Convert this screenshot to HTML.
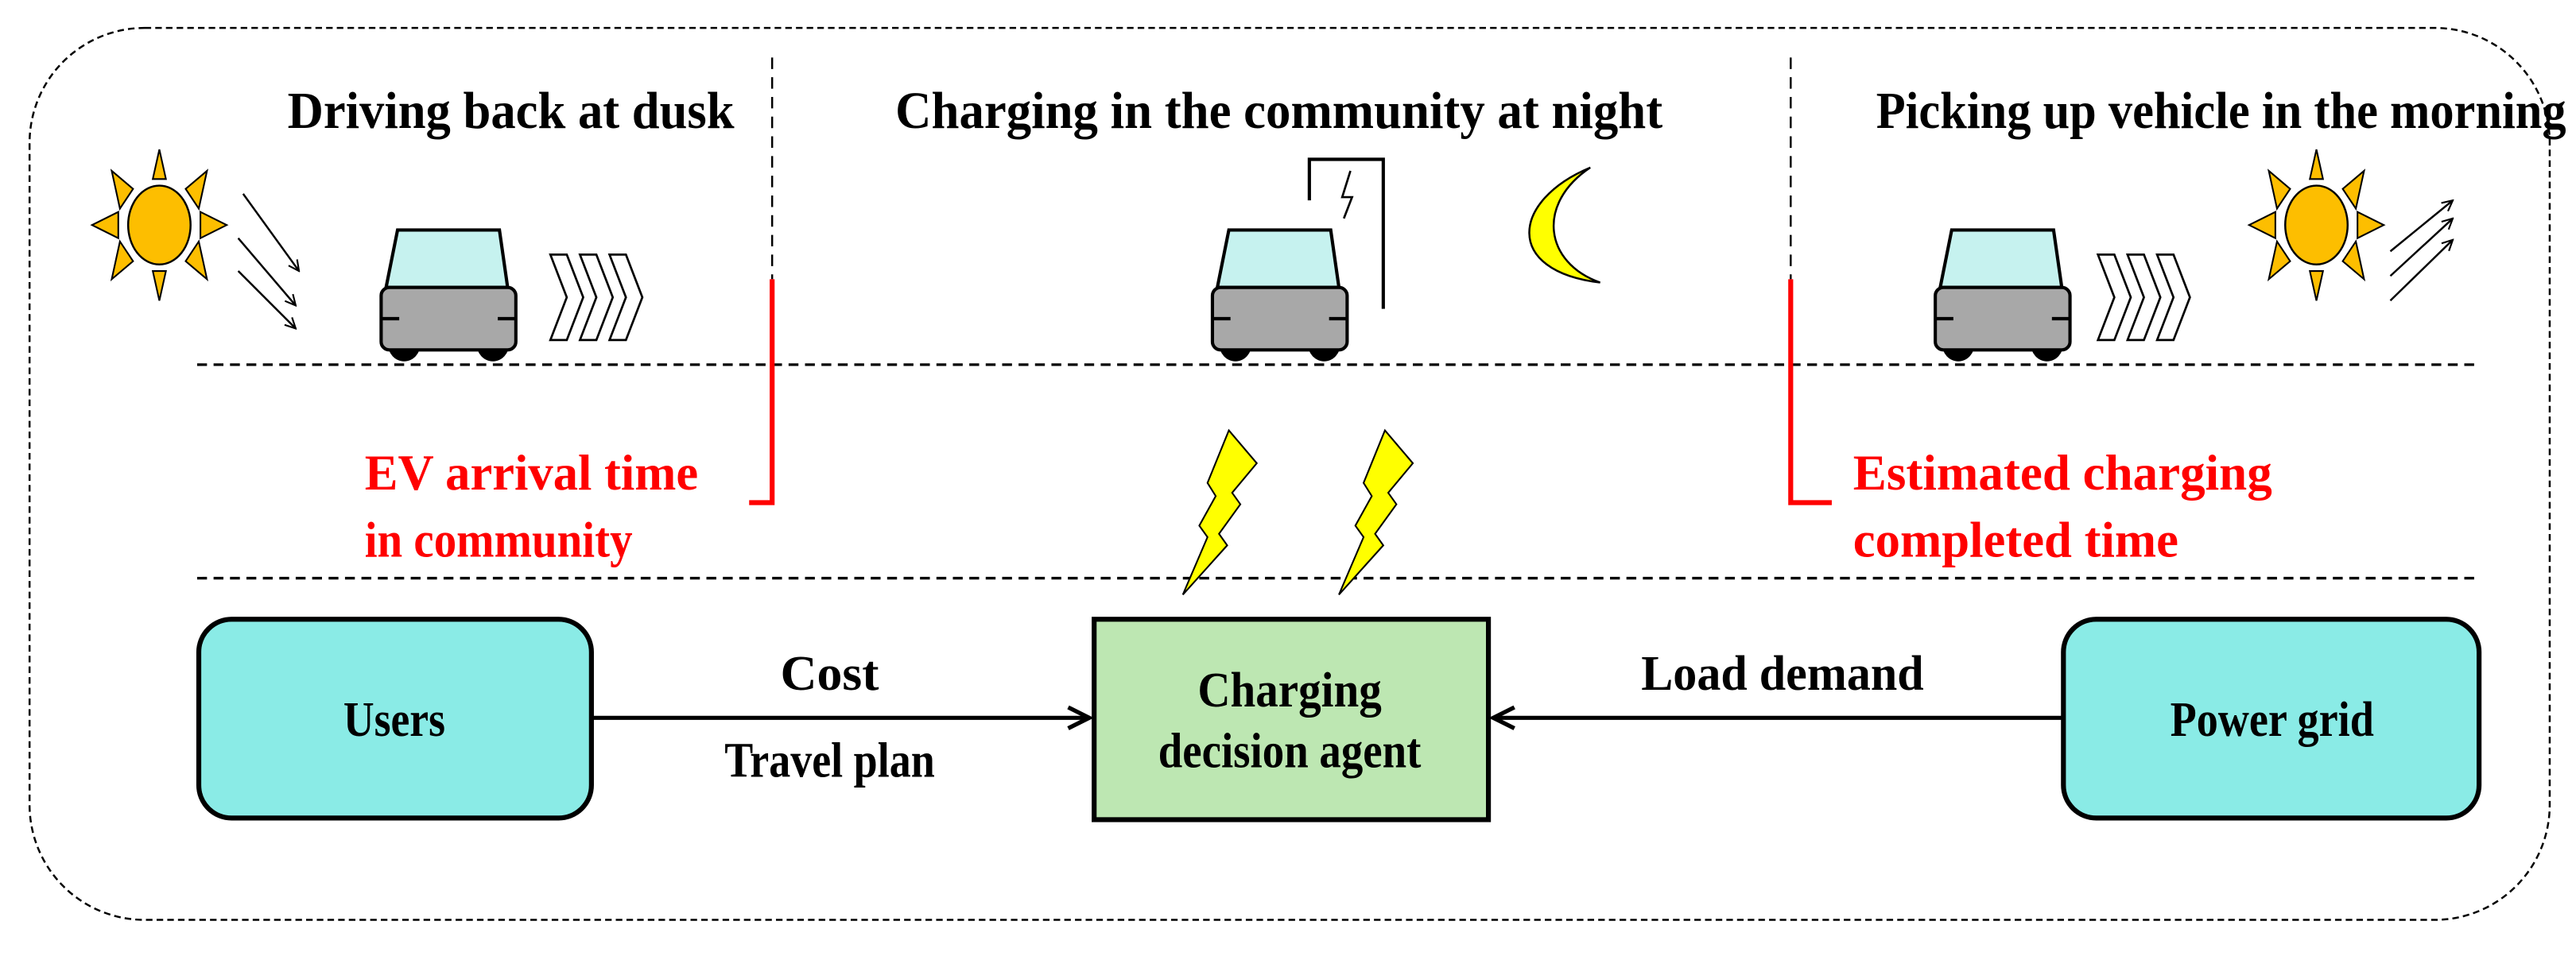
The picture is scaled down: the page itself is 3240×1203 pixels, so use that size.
<!DOCTYPE html>
<html><head><meta charset="utf-8"><style>
html,body{margin:0;padding:0;background:#fff}
svg{display:block}
text{font-family:"Liberation Serif",serif;font-weight:bold}
</style></head><body>
<svg width="3240" height="1203" viewBox="0 0 1568 582" preserveAspectRatio="none" xmlns="http://www.w3.org/2000/svg">
<defs>
<marker id="ah" viewBox="0 0 10 10" refX="9" refY="5" markerWidth="8" markerHeight="8" orient="auto" markerUnits="userSpaceOnUse"><path d="M1,1 L9,5 L1,9" fill="none" stroke="#000" stroke-width="1.3"/></marker>
<marker id="ab" viewBox="0 0 10 10" refX="9" refY="5" markerWidth="16" markerHeight="16" orient="auto" markerUnits="userSpaceOnUse"><path d="M1,1 L9,5 L1,9" fill="none" stroke="#000" stroke-width="1.6"/></marker>
<g id="sun">
<polygon points="0,-46 -4,-28 4,-28" fill="#fdbe00" stroke="#000" stroke-width="1"/>
<polygon points="0,46 -4,28 4,28" fill="#fdbe00" stroke="#000" stroke-width="1"/>
<polygon points="-41,0 -25,-8 -25,8" fill="#fdbe00" stroke="#000" stroke-width="1"/>
<polygon points="41,0 25,-8 25,8" fill="#fdbe00" stroke="#000" stroke-width="1"/>
<polygon points="-29,-33 -16,-22 -24,-10" fill="#fdbe00" stroke="#000" stroke-width="1"/>
<polygon points="29,-33 16,-22 24,-10" fill="#fdbe00" stroke="#000" stroke-width="1"/>
<polygon points="-29,33 -16,22 -24,10" fill="#fdbe00" stroke="#000" stroke-width="1"/>
<polygon points="29,33 16,22 24,10" fill="#fdbe00" stroke="#000" stroke-width="1"/>
<ellipse cx="0" cy="0" rx="19" ry="24" fill="#fdbe00" stroke="#000" stroke-width="1.2"/>
</g>
<g id="car">
<polygon points="10,0 72,0 77,35 3,35" fill="#c6f2ef" stroke="#000" stroke-width="2"/>
<ellipse cx="14" cy="69" rx="10" ry="11" fill="#000"/>
<ellipse cx="68" cy="69" rx="10" ry="11" fill="#000"/>
<rect x="0" y="35" width="82" height="38" rx="5" fill="#a8a8a8" stroke="#000" stroke-width="2"/>
<line x1="0" y1="54" x2="11" y2="54" stroke="#000" stroke-width="2"/>
<line x1="71" y1="54" x2="82" y2="54" stroke="#000" stroke-width="2"/>
</g>
<g id="chev">
<polygon points="0,0 10,0 20,26 10,52 0,52 10,26" fill="#fff" stroke="#000" stroke-width="1.3"/>
<polygon points="18,0 28,0 38,26 28,52 18,52 28,26" fill="#fff" stroke="#000" stroke-width="1.3"/>
<polygon points="36,0 46,0 56,26 46,52 36,52 46,26" fill="#fff" stroke="#000" stroke-width="1.3"/>
</g>
<g id="bolt">
<polygon points="28,0 45,20 30,38 35,45 22,63 27,70 0,100 15,65 10,58 20,40 15,32" fill="#ffff00" stroke="#000" stroke-width="1"/>
</g>
</defs>

<rect x="18" y="17" width="1534" height="543" rx="70" ry="70" fill="none" stroke="#000" stroke-width="1.2" stroke-dasharray="4,2.5"/>

<!-- titles -->
<text x="175" y="78" font-size="32" textLength="272" lengthAdjust="spacingAndGlyphs">Driving back at dusk</text>
<text x="545" y="78" font-size="32" textLength="467" lengthAdjust="spacingAndGlyphs">Charging in the community at night</text>
<text x="1142" y="78" font-size="32" textLength="420" lengthAdjust="spacingAndGlyphs">Picking up vehicle in the morning</text>

<!-- dashed separators -->
<line x1="470" y1="35" x2="470" y2="170" stroke="#000" stroke-width="1.2" stroke-dasharray="7,5"/>
<line x1="1090" y1="35" x2="1090" y2="170" stroke="#000" stroke-width="1.2" stroke-dasharray="7,5"/>
<line x1="120" y1="222" x2="1510" y2="222" stroke="#000" stroke-width="1.6" stroke-dasharray="6,4"/>
<line x1="120" y1="352" x2="1510" y2="352" stroke="#000" stroke-width="1.6" stroke-dasharray="6,4"/>

<!-- red brackets -->
<polyline points="470,170 470,306 456,306" fill="none" stroke="#ff0000" stroke-width="3"/>
<polyline points="1090,170 1090,306 1115,306" fill="none" stroke="#ff0000" stroke-width="3"/>
<g fill="#ff0000" font-size="31">
<text x="222" y="298" textLength="203" lengthAdjust="spacingAndGlyphs">EV arrival time</text>
<text x="222" y="339" textLength="163" lengthAdjust="spacingAndGlyphs">in community</text>
<text x="1128" y="298" textLength="255" lengthAdjust="spacingAndGlyphs">Estimated charging</text>
<text x="1128" y="339" textLength="198" lengthAdjust="spacingAndGlyphs">completed time</text>
</g>

<!-- left scene -->
<use href="#sun" x="97" y="137"/>
<g stroke="#000" stroke-width="1.2" marker-end="url(#ah)">
<line x1="148" y1="118" x2="182" y2="165"/>
<line x1="145" y1="145" x2="180" y2="186"/>
<line x1="145" y1="165" x2="180" y2="200"/>
</g>
<use href="#car" x="232" y="140"/>
<use href="#chev" x="335" y="155"/>

<!-- middle scene -->
<g stroke="#000" stroke-width="2" fill="none">
<polyline points="797,122 797,97 842,97 842,188"/>
<polyline points="822,104 817,120 823,120 818,133" stroke-width="1.3"/>
</g>
<use href="#car" x="738" y="140"/>
<path d="M968,102 C920,122 915,165 974,172 C940,160 935,124 968,102 Z" fill="#ffff00" stroke="#000" stroke-width="1.2"/>
<use href="#bolt" x="720" y="262"/>
<use href="#bolt" x="815" y="262"/>

<!-- right scene -->
<use href="#car" x="1178" y="140"/>
<use href="#chev" x="1277" y="155"/>
<use href="#sun" x="1410" y="137"/>
<g stroke="#000" stroke-width="1.2" marker-end="url(#ah)">
<line x1="1455" y1="153" x2="1493" y2="122"/>
<line x1="1455" y1="168" x2="1493" y2="133"/>
<line x1="1455" y1="183" x2="1493" y2="146"/>
</g>

<!-- bottom boxes -->
<rect x="121" y="377" width="239" height="121" rx="20" fill="#8aebe6" stroke="#000" stroke-width="3"/>
<rect x="1256" y="377" width="253" height="121" rx="20" fill="#8aebe6" stroke="#000" stroke-width="3"/>
<rect x="666" y="377" width="240" height="122" fill="#bde7b2" stroke="#000" stroke-width="3"/>
<line x1="360" y1="437" x2="663" y2="437" stroke="#000" stroke-width="2.5" marker-end="url(#ab)"/>
<line x1="1256" y1="437" x2="909" y2="437" stroke="#000" stroke-width="2.5" marker-end="url(#ab)"/>

<g font-size="30" text-anchor="middle">
<text x="240" y="448" textLength="62" lengthAdjust="spacingAndGlyphs">Users</text>
<text x="1383" y="448" textLength="124" lengthAdjust="spacingAndGlyphs">Power grid</text>
<text x="785" y="430" textLength="112" lengthAdjust="spacingAndGlyphs">Charging</text>
<text x="785" y="467" textLength="160" lengthAdjust="spacingAndGlyphs">decision agent</text>
<text x="505" y="420" textLength="60" lengthAdjust="spacingAndGlyphs">Cost</text>
<text x="505" y="473" textLength="128" lengthAdjust="spacingAndGlyphs">Travel plan</text>
<text x="1085" y="420" textLength="172" lengthAdjust="spacingAndGlyphs">Load demand</text>
</g>
</svg>
</body></html>
